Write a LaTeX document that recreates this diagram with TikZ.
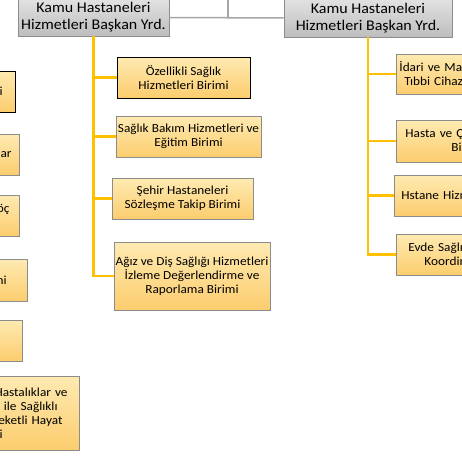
\documentclass[tikz,border=0pt]{standalone}
\usepackage{fontspec}
\setmainfont[FakeStretch=1.08]{Carlito}
\definecolor{ytop}{HTML}{FEEAB2}
\definecolor{ybot}{HTML}{FCCD6E}
\definecolor{gtop}{HTML}{E2E2E2}
\definecolor{gbot}{HTML}{BDBDBD}
\definecolor{boxgray}{HTML}{8C8C8C}
\definecolor{ylinec}{HTML}{FFC000}
\definecolor{clinec}{HTML}{A6A6A6}
\begin{document}
\begin{tikzpicture}[x=1pt,y=-1pt,
  ybox/.style={draw=boxgray, line width=0.8pt, top color=ytop, bottom color=ybot,
    font=\fontsize{12.3}{14}\selectfont, align=center, inner xsep=0pt, inner ysep=0pt,
    minimum height=41pt},
  rbox/.style={ybox, anchor=west, text width=160pt, align=left},
  lbox/.style={ybox, anchor=east, text width=120pt, align=right},
  gbox/.style={draw=boxgray, line width=0.8pt, top color=gtop, bottom color=gbot,
    font=\fontsize{14.8}{17}\selectfont, align=center, inner sep=0pt},
  yelline/.style={draw=ylinec, line width=2.5pt},
  grayline/.style={draw=clinec, line width=1.5pt}]
\useasboundingbox (0,0) rectangle (462,455);
\clip (0,0) rectangle (462,455);
% header boxes
\node[gbox, minimum width=151pt, minimum height=37pt] (gl) at (93.5,17.5) {Kamu Hastaneleri\\Hizmetleri Başkan Yrd.};
\node[gbox, minimum width=168pt, minimum height=38pt] (gr) at (368,18) {Kamu Hastaneleri\\Hizmetleri Başkan Yrd.};
% middle column
\node[ybox, draw=black, minimum width=133pt] (y1) at (183.5,77.5) {Özellikli Sağlık\\Hizmetleri Birimi};
\node[ybox, minimum width=145pt] (y2) at (188.5,136.5) {Sağlık Bakım Hizmetleri ve\\Eğitim Birimi};
\node[ybox, minimum width=141pt] (y3) at (182.5,198.5) {Şehir Hastaneleri\\Sözleşme Takip Birimi};
\node[ybox, minimum width=156pt, minimum height=68pt] (y4) at (192,276) {Ağız ve Diş Sağlığı Hizmetleri\\İzleme Değerlendirme ve\\Raporlama Birimi};
% right column
\node[rbox, inner xsep=3pt, minimum height=40pt] (r1) at (396,74) {İdari ve Mal\\\rule{5pt}{0pt}Tıbbi Cihaz};
\node[rbox, inner xsep=9pt, minimum height=42pt] (r2) at (396,141) {Hasta ve Ç\\\rule{46pt}{0pt}Bi};
\node[rbox, inner xsep=7pt, minimum height=41pt] (r3) at (394,195.5) {Hstane Hizm};
\node[rbox, inner xsep=12pt, minimum height=41pt] (r4) at (396,254.5) {Evde Sağlı\\\rule{16pt}{0pt}Koordin};
% left column
\node[lbox, draw=black, inner xsep=13pt] (l1) at (16,91.5) {i};
\node[lbox, inner xsep=8pt] (l2) at (20,154.5) {ar};
\node[lbox, inner xsep=10pt] (l3) at (20,215.5) {öç\\\mbox{}};
\node[lbox, inner xsep=21pt, minimum height=42pt] (l4) at (28,280) {ni};
\node[lbox, inner xsep=10pt] (l5) at (23,340.5) {};
\node[lbox, inner xsep=12pt, minimum height=74pt] (l6) at (80,413) {Hastalıklar ve\\r ile Sağlıklı\rule{10pt}{0pt}\\eketli Hayat\rule{5pt}{0pt}\\i\rule{65pt}{0pt}};
% connectors
\coordinate (tp) at (228,-5);
\draw[grayline] (gl.east) -- (gr.west);
\draw[grayline] (tp) -- (tp |- gl.east);
\draw[yelline] (gl.south) -- (gl.south |- y4.west) -- (y4.west);
\foreach \n in {y1,y2,y3} \draw[yelline] (gl.south |- \n.west) -- (\n.west);
\draw[yelline] (gr.south) -- (gr.south |- r4.west) -- (r4.west);
\foreach \n in {r1,r2,r3} \draw[yelline] (gr.south |- \n.west) -- (\n.west);
\end{tikzpicture}
\end{document}
